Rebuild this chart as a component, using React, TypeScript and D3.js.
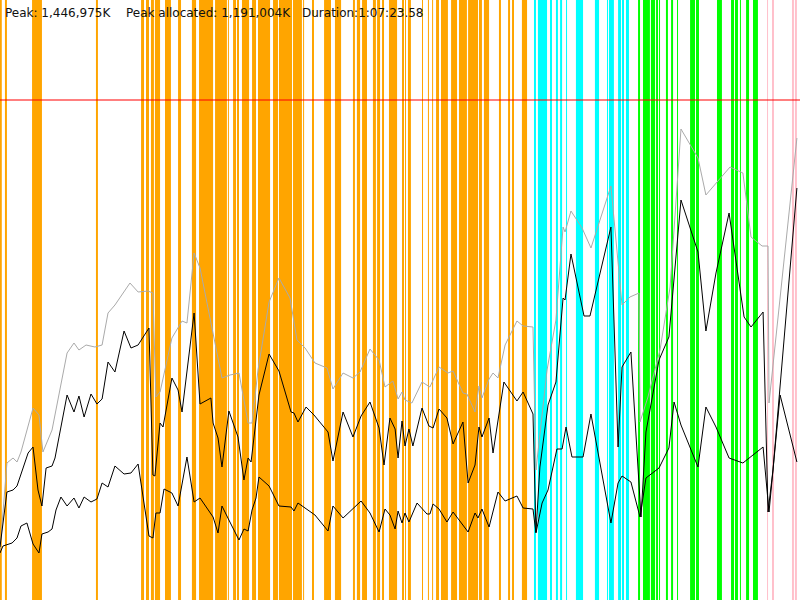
import React from 'react'
import * as d3 from 'd3'

// GC log summary (memory in MB, time in seconds)
const durationSec = 4043.58
const heapLimitMB = 1500
const summary = ['Peak: 1,446,975K', 'Peak allocated: 1,191,004K', 'Duration:1:07:23.58']

// heap size (committed) after each event
const heapSize: [number, number][] = [
	[0, 150], [35, 411], [66, 426], [86, 414], [106, 444], [167, 576], [197, 555], [217, 444],
	[263, 510], [339, 741], [374, 771], [399, 750], [435, 765], [480, 759], [516, 765], [546, 861],
	[581, 885], [657, 951], [698, 924], [748, 927], [773, 921], [788, 609], [809, 624], [869, 786],
	[920, 837], [945, 831], [981, 1041], [1011, 996], [1122, 666], [1163, 675], [1208, 681], [1254, 531],
	[1274, 531], [1304, 690], [1360, 894], [1410, 966], [1466, 906], [1501, 780], [1542, 756], [1592, 711],
	[1653, 696], [1683, 633], [1734, 681], [1784, 666], [1820, 684], [1870, 753], [1916, 720], [1946, 639],
	[1986, 657], [2012, 603], [2032, 624], [2047, 600], [2082, 591], [2133, 654], [2173, 639], [2219, 699],
	[2264, 681], [2290, 687], [2340, 621], [2360, 618], [2401, 564], [2421, 642], [2436, 606], [2472, 663],
	[2492, 681], [2517, 666], [2553, 765], [2613, 837], [2644, 822], [2694, 819], [2709, 390], [2765, 690],
	[2810, 840], [2846, 1119], [2856, 1104], [2886, 1167], [2942, 1116], [2987, 1056], [3088, 1242], [3144, 885],
	[3184, 909], [3230, 921], [3235, 534], [3275, 609], [3336, 750], [3387, 939], [3442, 1413], [3528, 1326],
	[3568, 1215], [3690, 1299], [3755, 1281], [3796, 1089], [3852, 1062], [3882, 1062], [3887, 591], [4028, 1386],
]

// used before collection
const usedBefore: [number, number][] = [
	[0, 159], [35, 324], [66, 330], [86, 342], [142, 441], [167, 459], [192, 330], [212, 282],
	[233, 396], [263, 402], [278, 426], [339, 615], [374, 564], [399, 612], [425, 549], [460, 618],
	[490, 588], [516, 603], [546, 714], [581, 684], [627, 807], [662, 756], [698, 765], [753, 816],
	[773, 375], [783, 372], [809, 531], [824, 519], [869, 666], [900, 630], [920, 564], [981, 861],
	[1011, 588], [1066, 606], [1077, 531], [1102, 486], [1122, 399], [1157, 567], [1203, 489], [1233, 360],
	[1254, 426], [1269, 414], [1309, 615], [1360, 738], [1410, 687], [1471, 564], [1486, 561], [1506, 534],
	[1547, 579], [1587, 555], [1658, 504], [1683, 417], [1734, 564], [1784, 489], [1825, 552], [1870, 594],
	[1916, 516], [1941, 405], [1971, 546], [1997, 513], [2012, 426], [2032, 537], [2047, 462], [2067, 513],
	[2087, 462], [2133, 576], [2168, 522], [2189, 516], [2219, 573], [2259, 546], [2290, 468], [2340, 534],
	[2366, 351], [2401, 405], [2421, 519], [2436, 489], [2472, 546], [2492, 441], [2547, 654], [2613, 597],
	[2644, 624], [2694, 558], [2709, 204], [2729, 399], [2770, 585], [2810, 654], [2846, 906], [2856, 900],
	[2886, 1038], [2952, 852], [2982, 852], [3088, 1119], [3124, 459], [3144, 699], [3189, 744], [3240, 249],
	[3265, 504], [3331, 720], [3381, 789], [3442, 1200], [3528, 1044], [3568, 807], [3619, 981], [3685, 1161],
	[3761, 849], [3796, 819], [3857, 864], [3882, 264], [3907, 390], [4028, 1236],
]

// used after collection
const usedAfter: [number, number][] = [
	[0, 141], [15, 162], [61, 171], [86, 186], [106, 222], [136, 231], [167, 168], [197, 141],
	[212, 198], [243, 204], [263, 213], [283, 270], [308, 309], [339, 282], [374, 306], [399, 276],
	[425, 309], [460, 294], [490, 303], [516, 351], [546, 339], [581, 402], [627, 378], [662, 381],
	[698, 408], [753, 192], [773, 186], [788, 261], [809, 261], [829, 333], [869, 321], [900, 282],
	[945, 429], [981, 294], [1011, 306], [1077, 249], [1102, 201], [1122, 282], [1157, 240], [1208, 180],
	[1233, 213], [1254, 207], [1274, 270], [1294, 306], [1309, 369], [1360, 342], [1410, 282], [1471, 279],
	[1486, 267], [1506, 291], [1592, 255], [1658, 207], [1683, 282], [1734, 246], [1825, 297], [1870, 261],
	[1916, 204], [1946, 273], [1971, 255], [1997, 213], [2012, 267], [2032, 231], [2047, 261], [2067, 234],
	[2108, 291], [2158, 258], [2173, 258], [2189, 288], [2219, 273], [2259, 234], [2290, 264], [2366, 204],
	[2401, 261], [2416, 246], [2436, 273], [2472, 219], [2517, 324], [2553, 297], [2613, 312], [2644, 276],
	[2694, 273], [2709, 201], [2740, 291], [2770, 330], [2815, 453], [2841, 453], [2861, 519], [2891, 429],
	[2947, 429], [2987, 558], [3088, 231], [3124, 351], [3144, 372], [3189, 354], [3235, 249], [3265, 366],
	[3331, 396], [3381, 456], [3407, 594], [3442, 525], [3528, 399], [3568, 579], [3619, 519], [3685, 426],
	[3755, 411], [3857, 459], [3887, 264], [3943, 615], [4028, 414],
]

// GC pauses [start, end] in seconds, by phase
const youngGCs: [number, number][] = [
	[0, 9], [25, 35], [162, 212], [485, 495], [713, 728], [738, 753], [763, 778], [783, 809],
	[834, 864], [900, 915], [970, 991], [1006, 1077], [1087, 1147], [1152, 1157], [1178, 1193], [1198, 1208],
	[1223, 1259], [1274, 1294], [1304, 1365], [1380, 1405], [1410, 1476], [1481, 1526], [1532, 1537], [1577, 1587],
	[1638, 1673], [1693, 1724], [1784, 1794], [1804, 1820], [1830, 1855], [1885, 1900], [1906, 1921], [1931, 1941],
	[1966, 2007], [2032, 2042], [2047, 2052], [2062, 2077], [2133, 2138], [2163, 2168], [2184, 2189], [2204, 2219],
	[2229, 2264], [2280, 2310], [2320, 2360], [2366, 2416], [2421, 2436], [2446, 2472], [2522, 2532], [2568, 2578],
	[2588, 2598], [2638, 2664],
]
const mixedGCs: [number, number][] = [
	[2699, 2709], [2719, 2765], [2780, 2790], [2810, 2820], [2831, 2841], [2861, 2866], [2911, 2947], [3007, 3028],
	[3068, 3073], [3078, 3103], [3124, 3139], [3144, 3154], [3164, 3179],
]
const concurrentGCs: [number, number][] = [
	[3225, 3235], [3250, 3285], [3290, 3311], [3316, 3326], [3331, 3336], [3366, 3376], [3392, 3402], [3422, 3427],
	[3488, 3513], [3518, 3533], [3624, 3649], [3695, 3710], [3715, 3730], [3740, 3745], [3771, 3786], [3806, 3831],
]
const fullGCs: [number, number][] = [
	[3877, 3882], [3902, 3912], [4003, 4013], [4018, 4028],
]

export default function App() {
	const width = 800
	const height = 600

	const x = d3.scaleLinear().domain([0, durationSec]).range([0, width])
	const y = d3.scaleLinear().domain([0, 1800]).range([height, 0])

	const line = d3.line<[number, number]>()
		.x(d => x(d[0]))
		.y(d => y(d[1]))

	const bands = [
		{ data: youngGCs, color: '#ffa500' },
		{ data: mixedGCs, color: '#00ffff' },
		{ data: concurrentGCs, color: '#00ff00' },
		{ data: fullGCs, color: '#ffc0cb' },
	]

	const textX = [5, 126, 302]

	return (
		<svg width={width} height={height} style={{ position: 'absolute', left: 0, top: 0, background: '#fff' }}>
			{/* gc pause bands */}
			{bands.map((b, i) => (
				<g key={i}>
					{b.data.map((d, j) => (
						<rect key={j} x={x(d[0])} y={0} width={Math.max(1, x(d[1]) - x(d[0]))} height={height} fill={b.color} />
					))}
				</g>
			))}

			{/* heap limit */}
			<line x1={0} x2={width} y1={y(heapLimitMB)} y2={y(heapLimitMB)} stroke="#ff0000" strokeOpacity={0.5} strokeWidth={2} />

			<path d={line(heapSize) ?? ''} fill="none" stroke="#aaaaaa" strokeWidth={1} />
			<path d={line(usedBefore) ?? ''} fill="none" stroke="#000" strokeWidth={1} />
			<path d={line(usedAfter) ?? ''} fill="none" stroke="#000" strokeWidth={1} />

			{summary.map((s, i) => (
				<text key={i} x={textX[i]} y={17} fontFamily="'DejaVu Sans', sans-serif" fontSize={12} fill="#111">{s}</text>
			))}
		</svg>
	)
}
